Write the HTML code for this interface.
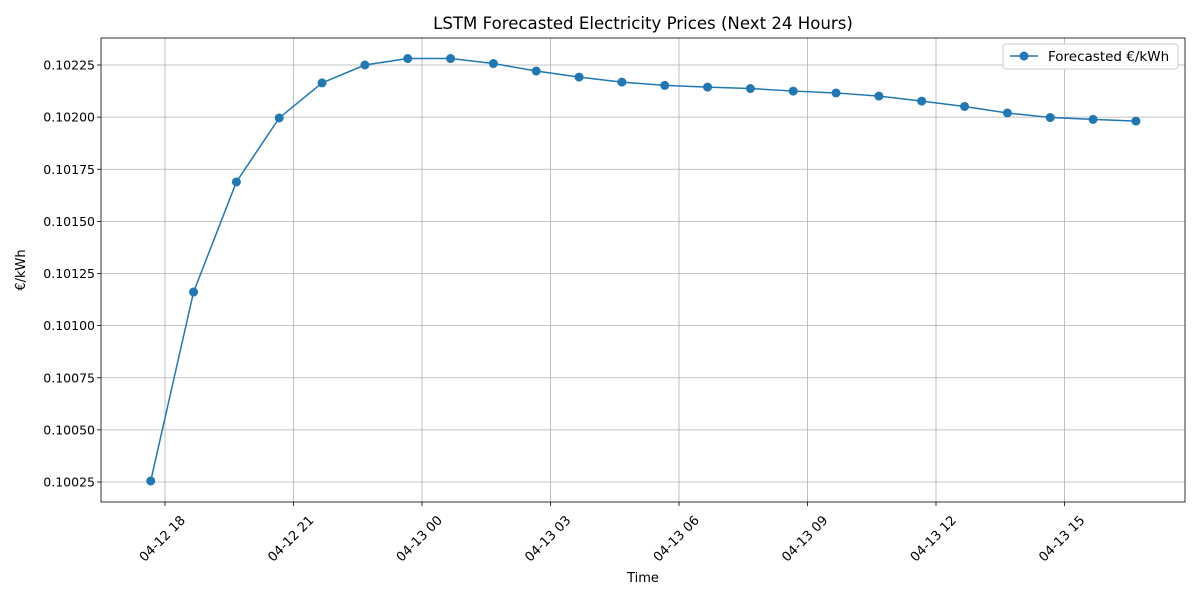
<!DOCTYPE html>
<html><head><meta charset="utf-8"><style>
body{margin:0;background:#fff;font-family:"Liberation Sans","DejaVu Sans",sans-serif;}
svg text{font-family:"DejaVu Sans","Liberation Sans",sans-serif;}
</style></head><body>
<svg id="chart" width="1200" height="600"></svg>
<script>
const startHourOffset = [17, 40]; // 04-12 17:40
const values = [0.100255,0.101161,0.101689,0.101996,0.102164,0.10225,0.102281,0.102281,0.102257,0.102221,0.102192,0.102168,0.102152,0.102144,0.102137,0.102125,0.102116,0.102101,0.102077,0.102051,0.102020,0.101998,0.101989,0.101981];
const yTicks = [0.10025,0.10050,0.10075,0.10100,0.10125,0.10150,0.10175,0.10200,0.10225];
const xTickHours = [18,21,24,27,30,33,36,39];
const xTickLabels = ["04-12 18","04-12 21","04-13 00","04-13 03","04-13 06","04-13 09","04-13 12","04-13 15"];

const L=101,R=1185,T=38,B=502;
const NS="http://www.w3.org/2000/svg";
const svg=document.getElementById('chart');
function y(v){return 482-(v-0.10025)/0.00025*52.125;}
function x(h){return 165+(h-18)*(128.5/3);}
function el(tag,attrs,parent){const e=document.createElementNS(NS,tag);for(const k in attrs)e.setAttribute(k,attrs[k]);(parent||svg).appendChild(e);return e;}

const grid=el('g',{});


yTicks.forEach(v=>{
  el('line',{x1:L,x2:R,y1:y(v),y2:y(v),stroke:'#b0b0b0','stroke-width':0.8},grid);
  el('line',{x1:L-4,x2:L,y1:y(v),y2:y(v),stroke:'#000','stroke-width':0.8});
  const t=el('text',{x:L-6,y:y(v)+4.5,'text-anchor':'end','font-size':12.5,fill:'#000'});
  t.textContent=v.toFixed(5);
  
  
});
xTickHours.forEach((h,i)=>{
  const xx=x(h);
  el('line',{x1:xx,x2:xx,y1:T,y2:B,stroke:'#b0b0b0','stroke-width':0.8},grid);
  el('line',{x1:xx,x2:xx,y1:B,y2:B+4,stroke:'#000','stroke-width':0.8});
  const t=el('text',{transform:`translate(${xx+21},${B+19}) rotate(-45)`,'text-anchor':'end','font-size':13,fill:'#000'});
  t.textContent=xTickLabels[i];
  
  
});
const frame=el('rect',{x:L,y:T,width:R-L,height:B-T,fill:'none',stroke:'#000','stroke-width':0.8});



const h0=startHourOffset[0]+startHourOffset[1]/60;
const pts=values.map((v,i)=>[x(h0+i),y(v)]);
const line=el('polyline',{points:pts.map(p=>p.join(',')).join(' '),fill:'none',stroke:'#1f77b4','stroke-width':1.5});


pts.forEach(p=>{
  const c=el('circle',{cx:p[0],cy:p[1],r:4.5,fill:'#1f77b4'});
  
  
});

const title=el('text',{x:643,y:29,'text-anchor':'middle','font-size':16.6});
title.textContent='LSTM Forecasted Electricity Prices (Next 24 Hours)';


const xl=el('text',{x:643,y:582,'text-anchor':'middle','font-size':13});
xl.textContent='Time';


const yl=el('text',{transform:'translate(25,270) rotate(-90)','text-anchor':'middle','font-size':13});
yl.textContent='€/kWh';



const leg=el('g',{});


el('rect',{x:1003,y:44,width:175,height:25,rx:3,fill:'#fff',stroke:'#ccc','stroke-width':1},leg);
el('line',{x1:1010,x2:1038,y1:56,y2:56,stroke:'#1f77b4','stroke-width':1.5},leg);
el('circle',{cx:1024,cy:56,r:4.5,fill:'#1f77b4'},leg);
const lt=el('text',{x:1048,y:61,'font-size':13.5},leg);
lt.textContent='Forecasted €/kWh';


</script>
</body></html>
